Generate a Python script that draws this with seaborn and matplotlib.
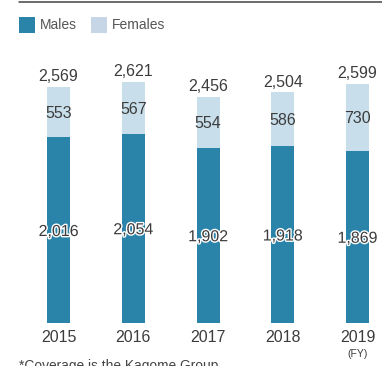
import matplotlib
matplotlib.use("Agg")
import matplotlib.pyplot as plt
import matplotlib.patheffects as pe
from matplotlib.patches import Rectangle
from matplotlib.lines import Line2D
import seaborn as sns
import pandas as pd

# Employees by gender, fiscal years
years = ["2015", "2016", "2017", "2018", "2019"]
males = [2016, 2054, 1902, 1918, 1869]
females = [553, 567, 554, 586, 730]
totals = [2569, 2621, 2456, 2504, 2599]

MALE_C = "#2a84a9"
FEMALE_C = "#c8dfeb"
LEGEND_FEMALE_C = "#c6d6e6"
TEXT_C = "#3c3c3c"

sns.set_theme(style="white")
plt.rcParams["font.family"] = ["Liberation Sans", "DejaVu Sans"]

W, H = 382, 366
DPI = 100
fig = plt.figure(figsize=(W / DPI, H / DPI), dpi=DPI)

# axes placed in pixel terms: baseline at 323 px from top, bars 74.75 px apart
bottom_px = 43
height_px = 283
ax = fig.add_axes([0, bottom_px / H, 1, height_px / H])

df = pd.DataFrame({"year": years, "male": males, "female": females, "total": totals})

bar_w = 23 / 74.75
sns.barplot(data=df, x="year", y="total", color=FEMALE_C, width=bar_w,
            saturation=1, ax=ax, edgecolor="none", linewidth=0)
sns.barplot(data=df, x="year", y="male", color=MALE_C, width=bar_w,
            saturation=1, ax=ax, edgecolor="none", linewidth=0)

unit_px = 74.75
ax.set_xlim(-58.5 / unit_px, (W - 58.5) / unit_px)
px_per_val = 236.5 / 2569
ax.set_ylim(0, height_px / px_per_val)

for s in ax.spines.values():
    s.set_visible(False)
ax.set_yticks([])
ax.set_xlabel("")
ax.set_ylabel("")
ax.tick_params(axis="x", length=0, pad=5, labelsize=11.5, labelcolor=TEXT_C)

def to_val(px):
    return px / px_per_val

for i, (m, f, t) in enumerate(zip(males, females, totals)):
    # total above bar
    ax.annotate(f"{t:,}", (i, t), xytext=(0, 5.5), textcoords="offset pixels",
                ha="center", va="baseline", fontsize=11.5, color=TEXT_C)
    # females in the middle of the upper segment
    ax.annotate(f"{f:,}", (i, m + f / 2), xytext=(0, -5.8), textcoords="offset pixels",
                ha="center", va="baseline", fontsize=11.5, color=TEXT_C)
    # males in the middle of the lower segment, with a white halo
    ax.annotate(f"{m:,}", (i, m / 2), xytext=(0, -5.8), textcoords="offset pixels",
                ha="center", va="baseline", fontsize=11.5, color=TEXT_C,
                path_effects=[pe.withStroke(linewidth=2, foreground="white")])

# fiscal-year marker under the last tick
ax.annotate("(FY)", (4, 0), xytext=(0, -34), textcoords="offset pixels",
            ha="center", va="baseline", fontsize=7.5, color=TEXT_C,
            annotation_clip=False)

# top rule
fig.add_artist(Line2D([19 / W, 1], [1 - 1.7 / H, 1 - 1.7 / H],
                      transform=fig.transFigure, color="#444444", linewidth=1.1))

# legend
def legend_item(x_px, color, label):
    fig.add_artist(Rectangle((x_px / W, 1 - 33 / H), 16 / W, 16 / H,
                             transform=fig.transFigure, facecolor=color,
                             edgecolor="none"))
    fig.text((x_px + 21) / W, 1 - 25 / H, label, ha="left", va="center",
             fontsize=10, color="#555555")

legend_item(19, MALE_C, "Males")
legend_item(91, LEGEND_FEMALE_C, "Females")

# footnote
fig.text(19 / W, -4 / H, "*Coverage is the Kagome Group", ha="left",
         va="baseline", fontsize=9.9, color="#444444")

fig.savefig("out.png", dpi=DPI)
